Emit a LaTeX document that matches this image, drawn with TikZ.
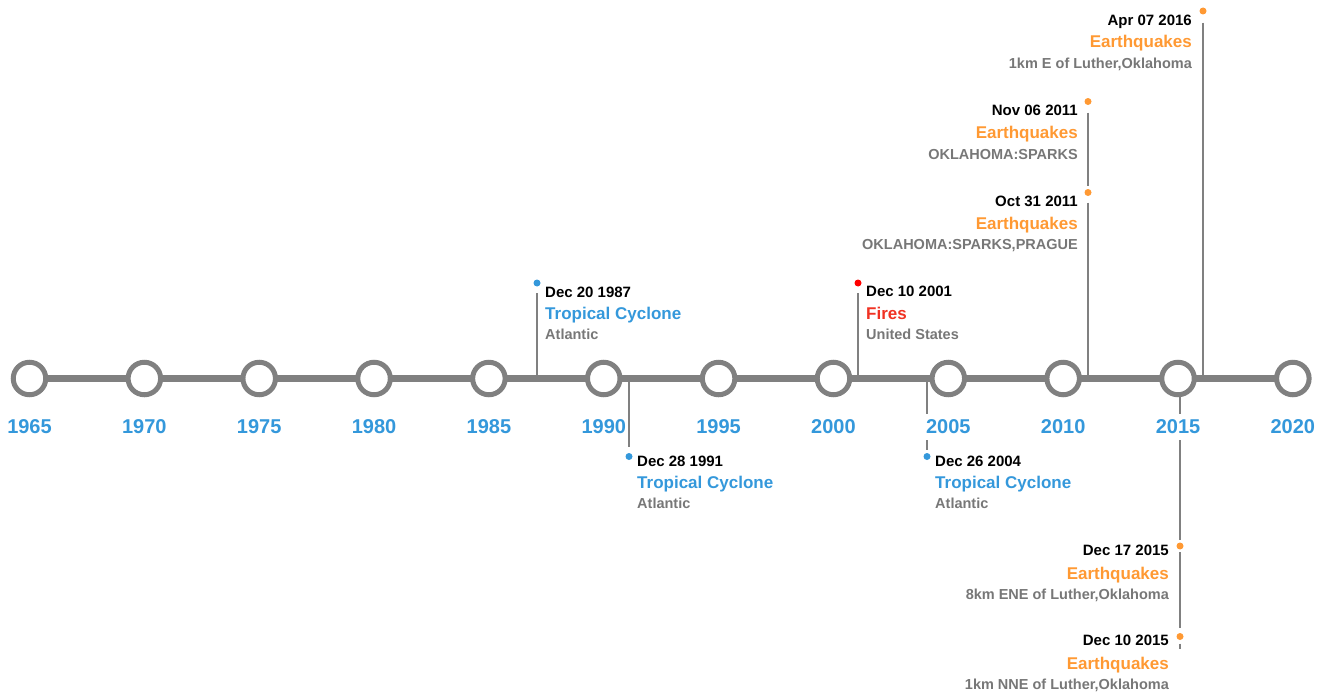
\documentclass[tikz,border=0pt]{standalone}
\usepackage{fontspec}
\setmainfont{Liberation Sans}
\usetikzlibrary{positioning}

\definecolor{linegray}{RGB}{128,128,128}
\definecolor{yearblue}{RGB}{52,152,219}
\definecolor{quakeorange}{RGB}{255,153,51}
\definecolor{firered}{RGB}{240,50,35}
\definecolor{placegray}{RGB}{119,119,119}

\begin{document}
\begin{tikzpicture}[x=1pt,y=-1pt,
    yr/.style={shape=circle,draw=linegray,line width=5pt,fill=white,minimum size=32.5pt,inner sep=0pt,outer sep=0pt},
    year/.style={font=\fontsize{20}{20}\selectfont\bfseries,text=yearblue,fill=white,inner sep=0pt,text height=20pt,text depth=6pt},
    dot/.style={shape=circle,minimum size=7pt,inner sep=0pt},
    stem/.style={draw=linegray,line width=2.5pt},
    date/.style={font=\fontsize{15}{15}\selectfont\bfseries,inner sep=0pt},
    title/.style={font=\fontsize{17}{17}\selectfont\bfseries,inner sep=0pt},
    place/.style={font=\fontsize{14.5}{14.5}\selectfont\bfseries,text=placegray,inner sep=0pt},
    label distance=18.75pt]
    \useasboundingbox (0,0) rectangle (1327,693);
    % event dots
    \node (d1987) [dot, fill=yearblue] at (537,283) {};
    \node (d1991) [dot, fill=yearblue] at (629,456.5) {};
    \node (d2001) [dot, fill=red] at (858,283) {};
    \node (d2004) [dot, fill=yearblue] at (927,456.5) {};
    \node (d2011nov) [dot, fill=quakeorange] at (1088,101.5) {};
    \node (d2011oct) [dot, fill=quakeorange] at (1088,192.5) {};
    \node (d2015dec17) [dot, fill=quakeorange] at (1180,546) {};
    \node (d2015dec10) [dot, fill=quakeorange] at (1180,636.5) {};
    \node (d2016) [dot, fill=quakeorange] at (1203,11) {};
    % points on the time axis
    \coordinate (b1987) at (537,378.5);
    \coordinate (b1991) at (629,378.5);
    \coordinate (b2001) at (858,378.5);
    \coordinate (b2004) at (927,378.5);
    \coordinate (b2011) at (1088,378.5);
    \coordinate (b2015) at (1180,378.5);
    \coordinate (b2016) at (1203,378.5);
    \coordinate (s2015) at (1180,649);
    % connect the dots to the axis
    \draw[stem, shorten <=6.5pt] (d1987) -- (b1987);
    \draw[stem, shorten >=5.5pt] (b1991) -- (d1991);
    \draw[stem, shorten <=6.5pt] (d2001) -- (b2001);
    \draw[stem, shorten >=2.5pt] (b2004) -- (d2004);
    \draw[stem, shorten <=7.5pt, shorten >=2.5pt] (d2011nov) -- (d2011oct);
    \draw[stem, shorten <=6.5pt] (d2011oct) -- (b2011);
    \draw[stem, shorten >=2.5pt] (b2015) -- (d2015dec17);
    \draw[stem, shorten <=2.5pt, shorten >=4.5pt] (d2015dec17) -- (d2015dec10);
    \draw[stem, shorten <=3.5pt] (d2015dec10) -- (s2015);
    \draw[stem, shorten <=8pt] (d2016) -- (b2016);
    % the years
    \node (c1965) [yr, label={[year]below:1965}] at (29.5,378.5) {};
    \node (c1970) [yr, label={[year]below:1970}] at (144.35,378.5) {};
    \node (c1975) [yr, label={[year]below:1975}] at (259.2,378.5) {};
    \node (c1980) [yr, label={[year]below:1980}] at (374.05,378.5) {};
    \node (c1985) [yr, label={[year]below:1985}] at (488.9,378.5) {};
    \node (c1990) [yr, label={[year]below:1990}] at (603.75,378.5) {};
    \node (c1995) [yr, label={[year]below:1995}] at (718.6,378.5) {};
    \node (c2000) [yr, label={[year]below:2000}] at (833.45,378.5) {};
    \node (c2005) [yr, label={[year]below:2005}] at (948.3,378.5) {};
    \node (c2010) [yr, label={[year]below:2010}] at (1063.15,378.5) {};
    \node (c2015) [yr, label={[year]below:2015}] at (1178,378.5) {};
    \node (c2020) [yr, label={[year]below:2020}] at (1292.85,378.5) {};
    \draw[draw=linegray, line width=6.5pt] (c1965) -- (c1970) -- (c1975) -- (c1980) -- (c1985) -- (c1990) -- (c1995)
        -- (c2000) -- (c2005) -- (c2010) -- (c2015) -- (c2020);
    % event texts
    \node (t1987a) [date, anchor=base west] at (545,297) {Dec 20 1987};
    \node (t1987b) [title, text=yearblue, anchor=base west] at (545,319) {Tropical Cyclone};
    \node (t1987c) [place, anchor=base west] at (545,339) {Atlantic};
    \node (t1991a) [date, anchor=base west] at (637,466) {Dec 28 1991};
    \node (t1991b) [title, text=yearblue, anchor=base west] at (637,488) {Tropical Cyclone};
    \node (t1991c) [place, anchor=base west] at (637,508) {Atlantic};
    \node (t2001a) [date, anchor=base west] at (866,296) {Dec 10 2001};
    \node (t2001b) [title, text=firered, anchor=base west] at (866,319) {Fires};
    \node (t2001c) [place, anchor=base west] at (866,339) {United States};
    \node (t2004a) [date, anchor=base west] at (935,466) {Dec 26 2004};
    \node (t2004b) [title, text=yearblue, anchor=base west] at (935,488) {Tropical Cyclone};
    \node (t2004c) [place, anchor=base west] at (935,508) {Atlantic};
    \node (t2011na) [date, anchor=base east] at (1078,115.5) {Nov 06 2011};
    \node (t2011nb) [title, text=quakeorange, anchor=base east] at (1078,138) {Earthquakes};
    \node (t2011nc) [place, anchor=base east] at (1078,159) {OKLAHOMA:SPARKS};
    \node (t2011oa) [date, anchor=base east] at (1078,206.5) {Oct 31 2011};
    \node (t2011ob) [title, text=quakeorange, anchor=base east] at (1078,229) {Earthquakes};
    \node (t2011oc) [place, anchor=base east] at (1078,249) {OKLAHOMA:SPARKS,PRAGUE};
    \node (t2016a) [date, anchor=base east] at (1192,25.5) {Apr 07 2016};
    \node (t2016b) [title, text=quakeorange, anchor=base east] at (1192,48) {Earthquakes};
    \node (t2016c) [place, anchor=base east] at (1192,68) {1km E of Luther,Oklahoma};
    \node (t2015sa) [date, anchor=base east] at (1169,555.5) {Dec 17 2015};
    \node (t2015sb) [title, text=quakeorange, anchor=base east] at (1169,579) {Earthquakes};
    \node (t2015sc) [place, anchor=base east] at (1169,599) {8km ENE of Luther,Oklahoma};
    \node (t2015ta) [date, anchor=base east] at (1169,645.5) {Dec 10 2015};
    \node (t2015tb) [title, text=quakeorange, anchor=base east] at (1169,669) {Earthquakes};
    \node (t2015tc) [place, anchor=base east] at (1169,689) {1km NNE of Luther,Oklahoma};
\end{tikzpicture}
\end{document}
